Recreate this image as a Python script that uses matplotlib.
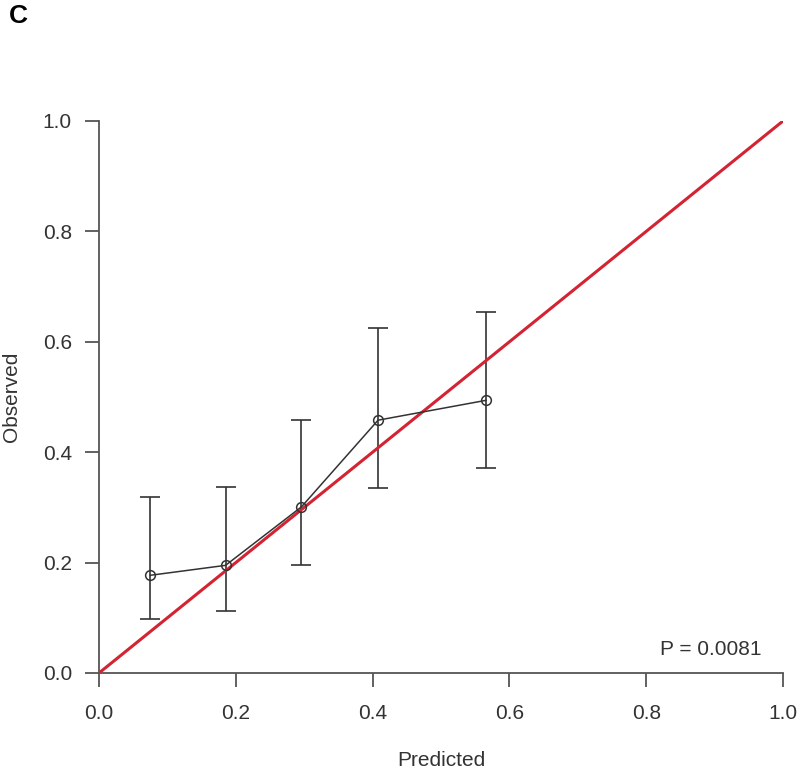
import matplotlib
matplotlib.use("Agg")
import matplotlib.pyplot as plt
import numpy as np

plt.rcParams['font.family'] = ['Liberation Sans', 'DejaVu Sans']

predicted = [0.075, 0.185, 0.296, 0.408, 0.566]
observed = [0.177, 0.195, 0.301, 0.458, 0.494]
lower = [0.098, 0.113, 0.195, 0.335, 0.372]
upper = [0.318, 0.337, 0.459, 0.625, 0.654]
ticks = [0.0, 0.2, 0.4, 0.6, 0.8, 1.0]
tick_labels = ["0.0", "0.2", "0.4", "0.6", "0.8", "1.0"]
p_text = "P = 0.0081"

fig = plt.figure(figsize=(8, 7.79), dpi=100)
ax = fig.add_axes([99/800, 1-673/779, (783-99)/800, (673-121)/779])

pred = np.array(predicted)
obs = np.array(observed)
yerr = np.vstack([obs - np.array(lower), np.array(upper) - obs])

ax.plot([0, 1], [0, 1], color='#d42332', lw=2.2, zorder=3)
ax.errorbar(pred, obs, yerr=yerr, fmt='none', ecolor='#333333', elinewidth=1.2,
            capsize=7, capthick=1.2, zorder=2)
ax.plot(pred, obs, color='#333333', lw=1.1, marker='o', markersize=7,
        markerfacecolor='none', markeredgecolor='#333333', markeredgewidth=1.1, zorder=4)

ax.set_xlim(0, 1)
ax.set_ylim(0, 1)
ax.set_xticks(ticks)
ax.set_xticklabels(tick_labels)
ax.set_yticks(ticks)
ax.set_yticklabels(tick_labels)
for s in ['top', 'right']:
    ax.spines[s].set_visible(False)
for s in ['left', 'bottom']:
    ax.spines[s].set_color('#555555')
    ax.spines[s].set_linewidth(1.3)
ax.tick_params(axis='both', direction='out', length=10, width=1.3, color='#555555',
               labelsize=15, labelcolor='#333333')
ax.tick_params(axis='x', pad=12.5)
ax.tick_params(axis='y', pad=9.5)

ax.set_xlabel("Predicted", fontsize=15, color='#333333')
ax.set_ylabel("Observed", fontsize=15, color='#333333')
ax.xaxis.set_label_coords(0.5, (673-760)/552, transform=ax.transAxes)
ax.xaxis.label.set_va('center')
ax.yaxis.set_label_coords((12-99)/684, 0.5, transform=ax.transAxes)
ax.yaxis.label.set_va('center')

ax.text(0.969, 0.043, p_text, ha='right', va='center', fontsize=15, color='#333333')
fig.text(18/800, 1-16/779, "C", ha='center', va='center', fontsize=19, fontweight='bold')

fig.savefig("out.png", dpi=100, facecolor='white')
